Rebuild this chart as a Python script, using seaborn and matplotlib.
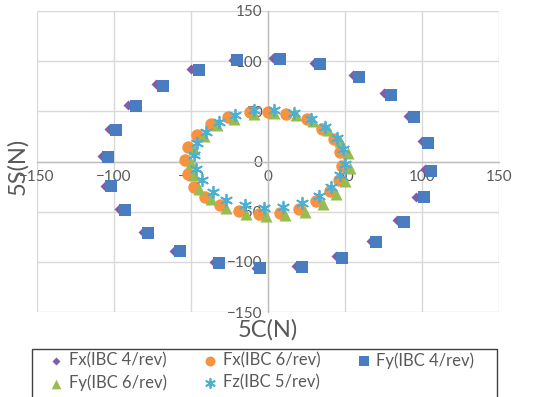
import pandas as pd
import matplotlib
matplotlib.use("Agg")
import matplotlib.pyplot as plt
import seaborn as sns
from matplotlib.patches import Rectangle

# Fx(IBC 4/rev)
fx4_c = [-23, 3, 30, 55, 75, 91, 100, 102, 96, 84, 67, 44, 18, -8, -35, -61, -81, -97, -106, -108, -103, -91, -73, -50]
fx4_s = [101, 103, 98, 86, 68, 45, 20, -7, -35, -58, -79, -94, -104, -106, -100, -89, -70, -47, -24, 5, 32, 56, 77, 92]
# Fy(IBC 4/rev)
fy4_c = [-20, 8, 34, 59, 80, 95, 104, 106, 101, 88, 70, 48, 22, -5, -32, -57, -78, -93, -102, -104, -99, -86, -68, -45]
fy4_s = [101, 102, 97, 84, 66, 44, 18, -9, -35, -60, -80, -96, -105, -106, -101, -89, -71, -48, -24, 4, 31, 55, 75, 91]
# Fx(IBC 6/rev)
fx6_c = [-12, 0, 12, 25, 35, 43, 47, 48, 46, 40, 31, 20, 8, -6, -19, -31, -41, -48, -52, -54, -52, -46, -37, -26]
fx6_s = [49, 49.5, 47.5, 42, 32, 22, 9, -4, -18, -29, -39, -47, -51, -52, -49, -43, -35, -25, -12, 1, 14, 26, 37, 44]
# Fy(IBC 6/rev)
fy6_c = [-9, 4, 18, 29, 39, 47, 52, 53, 50, 44, 36, 24, 11, -1.5, -14.5, -27, -37, -45, -48, -50, -48, -41.5, -33, -22]
fy6_s = [47.5, 48, 46.5, 40, 31, 20, 8, -6, -19, -32, -42, -50, -53, -54, -52, -46, -37, -27, -13, -1, 12, 25, 36, 42]
# Fz(IBC 5/rev)
fz5_c = [-9, 4, 17, 28, 37, 45, 49, 50, 47, 41, 33, 22, 10, -2.5, -15, -27, -36, -43, -47, -48, -46, -40.5, -32, -21.5]
fz5_s = [51, 51.5, 48, 42, 34, 23, 12, -2, -13, -25, -34, -41, -45, -46, -43, -38, -30, -18, -7, 6, 18, 29, 39, 46]

ticks = [-150, -100, -50, 0, 50, 100, 150]

series = [
    ("Fx(IBC 4/rev)", fx4_c, fx4_s, "#7E5EA8", "D", 26),
    ("Fx(IBC 6/rev)", fx6_c, fx6_s, "#F79240", "o", 80),
    ("Fy(IBC 4/rev)", fy4_c, fy4_s, "#4A7DC0", "s", 70),
    ("Fy(IBC 6/rev)", fy6_c, fy6_s, "#97BC4F", "^", 75),
    ("Fz(IBC 5/rev)", fz5_c, fz5_s, "#4BB0D4", (6, 2, 0), 70),
]

sns.set_theme(style="white")
plt.rcParams['font.family'] = ['Lato', 'DejaVu Sans']

fig = plt.figure(figsize=(5.46, 3.97), dpi=100)
ax = fig.add_axes([37 / 546, 1 - 312 / 397, 462 / 546, 301 / 397])

for name, c, s, col, mk, sz in series:
    df = pd.DataFrame({"5C(N)": c, "5S(N)": s})
    kw = dict(linewidth=1.3, edgecolor=col) if mk == (6, 2, 0) else dict(linewidth=0)
    sns.scatterplot(data=df, x="5C(N)", y="5S(N)", ax=ax, color=col, marker=mk,
                    s=sz, label=name, zorder=3, **kw)

ax.set_xlim(-150, 150)
ax.set_ylim(-150, 150)
ax.set_xticks(ticks)
ax.set_yticks(ticks)
ax.grid(True, color="#D9D9D9", linewidth=1)
ax.set_axisbelow(True)
for side in ["top", "right"]:
    ax.spines[side].set_visible(False)
for side in ["left", "bottom"]:
    ax.spines[side].set_position("zero")
    ax.spines[side].set_color("#BFBFBF")
    ax.spines[side].set_linewidth(1)
ax.tick_params(axis="both", length=0, labelsize=11, labelcolor="#595959")
ax.tick_params(axis="x", pad=6)
ax.tick_params(axis="y", pad=4)

ax.set_xlabel("")
ax.set_ylabel("")
fig.text(268 / 546, 1 - 330 / 397, "5C(N)", ha="center", va="center", fontsize=17, color="#595959")
fig.text(18 / 546, 1 - 166 / 397, "5S(N)", ha="center", va="center", fontsize=17, color="#595959", rotation=90)

# legend: row-wise order as in the reference
handles, labels = ax.get_legend_handles_labels()
order = [0, 3, 1, 4, 2]
leg = ax.legend([handles[i] for i in order], [labels[i] for i in order],
                loc="upper left", bbox_to_anchor=(48 / 546, 1 - 352 / 397), bbox_transform=fig.transFigure,
                ncol=3, fontsize=12, frameon=False, borderpad=0, borderaxespad=0,
                handletextpad=0.25, columnspacing=2.1, labelspacing=0.35, handlelength=1.0,
                markerscale=0.8)
for t in leg.get_texts():
    t.set_color("#595959")
fig.patches.append(Rectangle((32 / 546, -0.05), 465 / 546, (1 - 349 / 397) + 0.05,
                             transform=fig.transFigure, fill=False, edgecolor="#404040", linewidth=1))

fig.savefig("out.png", dpi=100)
